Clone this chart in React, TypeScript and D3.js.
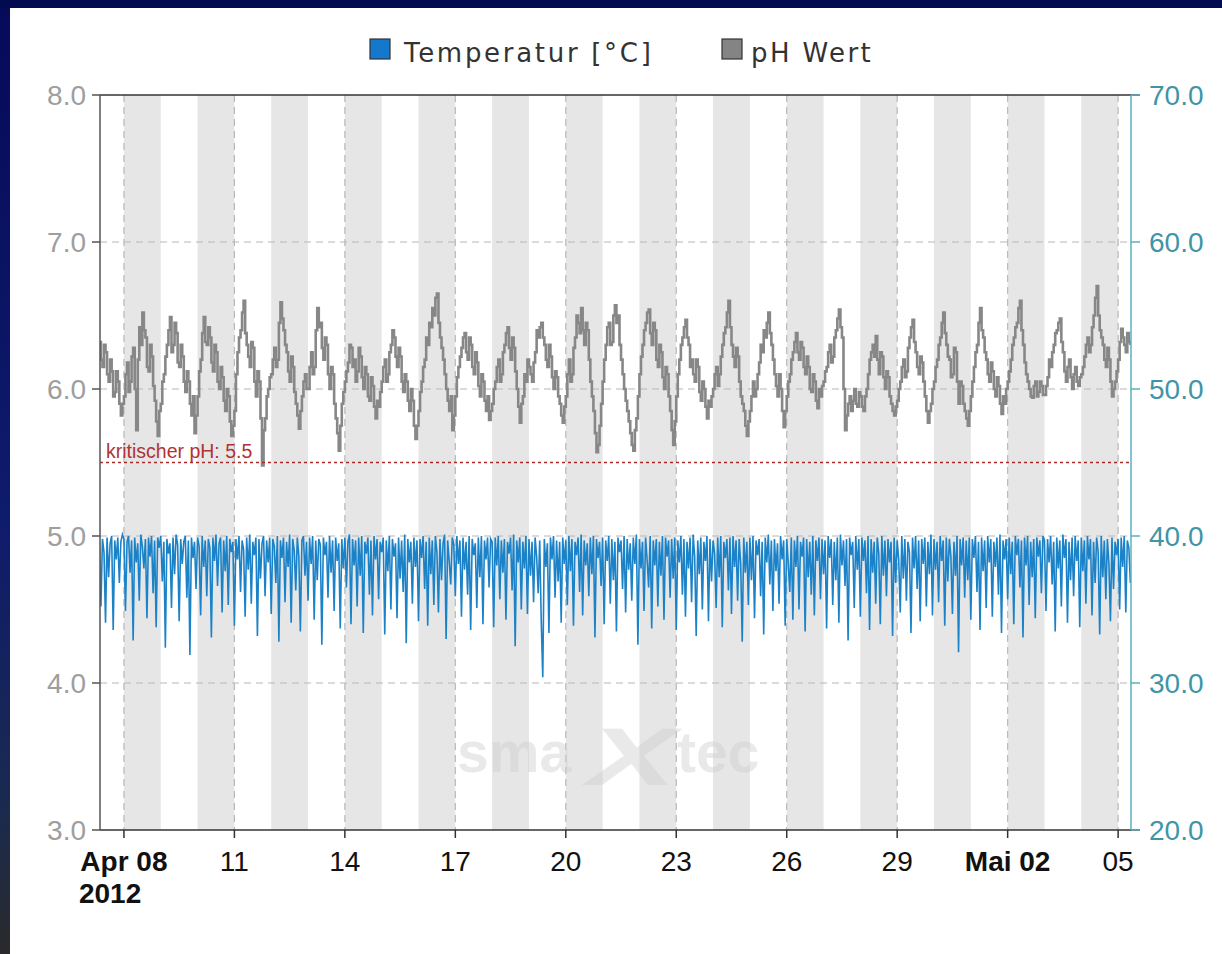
import React, { useEffect } from "react";
import * as d3 from "d3";

const WIDTH = 1222;
const HEIGHT = 954;
const PLOT = { left: 100, right: 1131, top: 95, bottom: 830 };

// both series start Apr 7 2012 08:00, one sample per hour
const SERIES_START = new Date(2012, 3, 7, 8, 0);
const STEP_HOURS = 1;

// pH (left axis), Apr 7 08:00 .. Apr 13
const phWeek1 = [
  6.32, 6.2, 6.15, 6.3, 6.25, 6.1, 6.05, 6.2, 6.12, 5.95, 5.98, 6.12, 6.05, 5.9, 5.82, 5.9,
  5.95, 6.1, 6.18, 5.98, 6.05, 6.22, 6.28, 6.0, 5.72, 6.2, 6.42, 6.3, 6.52, 6.4, 6.35, 6.15, 6.12, 6.3, 6.22, 6.02, 5.92, 5.78, 5.68, 5.85,
  5.9, 6.05, 6.1, 6.22, 6.3, 6.4, 6.49, 6.25, 6.3, 6.45, 6.38, 6.18, 6.15, 6.3, 6.22, 6.05, 5.98, 6.12, 6.05, 5.9, 5.82, 5.95, 5.7, 5.82,
  5.95, 6.12, 6.2, 6.38, 6.49, 6.32, 6.3, 6.42, 6.35, 6.18, 6.12, 6.3, 6.25, 6.05, 6.0, 6.15, 6.08, 5.92, 5.85, 6.0, 5.95, 5.78, 5.68, 5.75,
  5.85, 6.1, 6.25, 6.35, 6.4, 6.52, 6.6, 6.38, 6.3, 6.22, 6.15, 6.32, 6.28, 6.05, 5.95, 6.12, 6.05, 5.8, 5.48, 5.72, 5.8, 5.95, 6.0, 6.08,
  6.1, 6.2, 6.28, 6.15, 6.2, 6.45, 6.59, 6.48, 6.4, 6.3, 6.25, 6.12, 6.05, 6.22, 6.15, 5.98, 5.9, 5.82, 5.73, 5.85, 5.95, 6.05, 6.1, 6.0,
  6.0, 6.15, 6.25, 6.1, 6.15, 6.4, 6.55, 6.42, 6.45, 6.28, 6.2, 6.35, 6.3, 6.1, 6.0, 6.15, 6.1, 5.9, 5.8, 5.7, 5.58, 5.75, 5.9, 5.98,
];
// Apr 14 .. Apr 20
const phWeek2 = [
  6.05, 6.12, 6.18, 6.3, 6.28, 6.15, 6.2, 6.05, 6.12, 6.28, 6.22, 6.08, 6.0, 6.15, 6.1, 5.95, 5.92, 6.08, 6.02, 5.88, 5.8, 5.92, 5.88, 5.98,
  6.05, 6.15, 6.2, 6.05, 6.1, 6.25, 6.3, 6.4, 6.35, 6.22, 6.15, 6.28, 6.22, 6.05, 5.98, 6.1, 6.05, 5.92, 5.85, 6.0, 5.92, 5.75, 5.66, 5.75,
  5.85, 5.98, 6.05, 6.15, 6.2, 6.35, 6.3, 6.45, 6.42, 6.55, 6.5, 6.62, 6.65, 6.45, 6.35, 6.28, 6.2, 6.1, 6.0, 5.92, 5.85, 5.95, 5.72, 5.82,
  5.95, 6.08, 6.15, 6.22, 6.28, 6.35, 6.38, 6.25, 6.2, 6.35, 6.3, 6.15, 6.1, 6.25, 6.18, 6.02, 5.95, 6.1, 6.05, 5.92, 5.85, 5.95, 5.79, 5.85,
  5.9, 6.0, 6.05, 6.15, 6.2, 6.05, 6.1, 6.25, 6.3, 6.38, 6.42, 6.28, 6.2, 6.35, 6.28, 6.12, 6.0, 5.88, 5.77, 5.9, 5.95, 6.1, 6.05, 6.2,
  6.15, 6.1, 6.05, 6.18, 6.25, 6.4, 6.35, 6.42, 6.45, 6.35, 6.3, 6.2, 6.15, 6.3, 6.22, 6.08, 6.0, 6.12, 6.08, 5.95, 5.9, 5.82, 5.77, 5.88,
  5.95, 6.1, 6.2, 6.05, 6.1, 6.28, 6.35, 6.5, 6.45, 6.38, 6.55, 6.4, 6.3, 6.45, 6.4, 6.2, 6.05, 5.95, 5.85, 5.7, 5.57, 5.62, 5.75, 5.9,
];
// Apr 21 .. Apr 27
const phWeek3 = [
  6.05, 6.2, 6.3, 6.42, 6.45, 6.3, 6.32, 6.5, 6.57, 6.45, 6.5, 6.3, 6.2, 6.1, 6.0, 5.92, 5.85, 5.78, 5.7, 5.62, 5.58, 5.72, 5.8, 5.95,
  6.1, 6.22, 6.3, 6.4, 6.45, 6.52, 6.54, 6.38, 6.3, 6.45, 6.4, 6.2, 6.15, 6.3, 6.25, 6.08, 6.0, 6.15, 6.1, 5.95, 5.85, 5.72, 5.62, 5.78,
  5.95, 6.1, 6.2, 6.3, 6.35, 6.42, 6.47, 6.35, 6.3, 6.15, 6.2, 6.1, 6.05, 6.2, 6.15, 5.98, 5.92, 6.05, 6.0, 5.88, 5.8, 5.92, 5.88, 5.95,
  6.0, 6.1, 6.15, 6.02, 6.1, 6.22, 6.3, 6.38, 6.42, 6.52, 6.6, 6.42, 6.3, 6.22, 6.15, 6.28, 6.22, 6.05, 5.95, 5.9, 5.85, 5.75, 5.68, 5.78,
  5.85, 5.95, 6.05, 5.95, 6.0, 6.1, 6.18, 6.3, 6.25, 6.4, 6.35, 6.45, 6.52, 6.38, 6.3, 6.2, 6.1, 6.02, 5.95, 6.1, 6.0, 5.85, 5.74, 5.85,
  5.95, 6.05, 6.1, 6.2, 6.25, 6.32, 6.38, 6.25, 6.2, 6.32, 6.28, 6.15, 6.1, 6.22, 6.15, 6.0, 5.98, 6.1, 6.05, 5.92, 5.87, 6.0, 5.95, 6.02,
  6.05, 6.12, 6.15, 6.25, 6.3, 6.18, 6.22, 6.35, 6.4, 6.48, 6.54, 6.42, 6.35, 6.0, 5.72, 5.82, 5.9, 5.95, 5.85, 5.92, 6.0, 5.9, 5.88, 5.98,
];
// Apr 28 .. May 5 08:00
const phWeek4 = [
  5.95, 5.88, 5.85, 5.95, 6.0, 6.1, 6.2, 6.25, 6.3, 6.22, 6.36, 6.2, 6.1, 6.25, 6.22, 6.08, 6.0, 6.12, 6.08, 5.95, 5.9, 5.85, 5.82, 5.88,
  5.92, 6.0, 6.05, 6.15, 6.2, 6.08, 6.12, 6.28, 6.35, 6.42, 6.47, 6.32, 6.25, 6.15, 6.1, 6.22, 6.18, 6.05, 5.95, 5.85, 5.77, 5.85, 5.9, 6.0,
  6.05, 6.15, 6.2, 6.3, 6.35, 6.45, 6.52, 6.38, 6.3, 6.22, 6.2, 6.08, 6.1, 6.28, 6.25, 6.05, 5.9, 6.05, 6.02, 5.9, 5.85, 5.8, 5.75, 5.85,
  5.95, 6.05, 6.15, 6.25, 6.3, 6.45, 6.55, 6.4, 6.35, 6.25, 6.2, 6.1, 6.05, 6.18, 6.12, 6.0, 5.95, 6.08, 6.02, 5.9, 5.83, 5.95, 5.9, 6.0,
  6.05, 6.12, 6.2, 6.3, 6.35, 6.42, 6.45, 6.55, 6.6, 6.4, 6.3, 6.18, 6.1, 6.05, 6.0, 5.95, 5.94, 6.02, 6.05, 5.95, 5.98, 6.05, 6.02, 5.96,
  5.96, 6.02, 6.08, 6.2, 6.15, 6.25, 6.3, 6.38, 6.4, 6.45, 6.48, 6.32, 6.25, 6.12, 6.05, 6.15, 6.2, 6.08, 6.0, 6.1, 6.15, 6.05, 6.02, 6.08,
  6.1, 6.15, 6.22, 6.3, 6.35, 6.25, 6.3, 6.42, 6.5, 6.62, 6.7, 6.5, 6.4, 6.35, 6.3, 6.2, 6.15, 6.28, 6.2, 6.05, 5.95, 6.0, 6.05, 6.12,
  6.2, 6.32, 6.41, 6.35, 6.3, 6.25, 6.38, 6.32, 6.3,
];

// temperature °C (right axis), Apr 7 08:00 .. Apr 13
const tempWeek1 = [
  39.6, 35.2, 39.8, 38.9, 34.1, 39.9, 37.2, 39.5, 40.0, 33.6, 39.7, 38.4, 39.9, 36.8, 39.6, 40.1,
  39.8, 34.9, 39.6, 40.0, 37.5, 39.7, 32.9, 39.9, 38.2, 39.5, 35.6, 40.1, 39.3, 37.8, 39.8, 34.4, 39.9, 38.6, 40.0, 36.1, 39.7, 33.8, 39.9, 39.2,
  40.0, 36.9, 39.6, 32.4, 39.8, 38.8, 39.5, 35.1, 39.9, 37.4, 40.1, 39.4, 34.2, 39.8, 38.1, 39.6, 40.0, 35.8, 39.7, 31.9, 39.9, 38.5, 39.6, 36.4,
  39.9, 39.3, 34.6, 40.0, 37.9, 39.7, 35.9, 39.8, 39.2, 33.1, 39.9, 38.3, 40.1, 36.6, 39.5, 39.9, 34.8, 39.7, 37.6, 40.0, 35.3, 39.8, 38.9, 39.6,
  33.9, 39.8, 38.4, 40.0, 36.2, 39.7, 39.1, 34.5, 39.9, 37.7, 40.1, 35.4, 39.6, 38.7, 39.9, 33.2, 39.8, 37.1, 39.5, 40.0, 35.9, 39.7, 38.2, 39.9,
  34.7, 39.8, 39.3, 36.8, 40.0, 32.8, 39.7, 38.5, 39.9, 35.5, 39.6, 37.9, 40.1, 34.1, 39.8, 39.0, 36.3, 39.9, 38.6, 33.5, 39.7, 40.0, 37.3, 39.6,
  35.6, 39.9, 38.1, 40.0, 34.3, 39.7, 37.0, 39.8, 39.4, 32.6, 39.9, 38.7, 39.6, 35.8, 40.0, 37.5, 39.7, 34.9, 39.9, 38.3, 39.5, 33.7, 39.8, 37.8,
];
// Apr 14 .. Apr 20
const tempWeek2 = [
  39.9, 36.5, 39.6, 40.1, 34.0, 39.8, 38.0, 39.7, 35.2, 39.9, 37.3, 40.0, 33.4, 39.6, 38.8, 39.9, 36.0, 39.7, 34.6, 40.0, 38.4, 39.8, 35.7, 39.6,
  38.9, 39.9, 33.3, 39.7, 37.6, 40.0, 35.0, 39.8, 38.6, 39.5, 34.4, 39.9, 37.1, 39.7, 36.2, 40.1, 32.7, 39.8, 38.2, 39.6, 35.4, 39.9, 37.9, 39.7,
  34.2, 39.8, 38.5, 40.0, 36.4, 39.6, 33.9, 39.9, 37.4, 39.7, 35.3, 40.0, 38.9, 34.8, 39.8, 37.0, 39.5, 40.1, 33.0, 39.7, 38.3, 36.7, 39.9, 39.4,
  35.9, 40.0, 38.1, 39.7, 34.5, 39.9, 37.7, 39.6, 36.0, 40.0, 33.6, 39.8, 38.7, 39.5, 35.1, 39.9, 37.2, 40.0, 34.0, 39.7, 38.4, 39.9, 36.5, 39.8,
  39.6, 33.8, 39.9, 38.0, 40.0, 35.7, 39.7, 37.5, 39.8, 34.3, 39.6, 38.8, 39.9, 36.3, 40.1, 32.5, 39.7, 38.2, 39.9, 35.0, 39.6, 37.8, 40.0, 34.7,
  39.8, 37.3, 39.6, 35.5, 39.9, 38.6, 36.1, 39.7, 34.2, 30.4, 39.8, 37.9, 39.5, 33.4, 39.9, 38.4, 40.0, 35.8, 39.7, 36.9, 39.6, 34.1, 39.9, 38.1,
  39.7, 35.3, 40.0, 37.6, 39.8, 33.9, 39.6, 38.7, 39.9, 36.2, 40.1, 34.6, 39.7, 38.0, 39.5, 35.9, 39.9, 37.4, 40.0, 33.1, 39.8, 38.5, 39.6, 36.6,
];
// Apr 21 .. Apr 27
const tempWeek3 = [
  39.9, 34.0, 39.7, 38.3, 40.0, 35.4, 39.8, 37.0, 39.6, 33.5, 39.9, 38.9, 39.7, 36.4, 40.0, 34.8, 39.8, 37.7, 39.5, 35.6, 39.9, 38.1, 40.1, 32.6,
  39.8, 37.8, 39.6, 34.9, 39.9, 38.4, 36.5, 40.0, 33.7, 39.7, 38.0, 39.8, 35.2, 39.6, 37.3, 40.0, 34.3, 39.9, 38.6, 39.7, 35.8, 39.8, 37.1, 39.9,
  33.6, 39.7, 38.2, 40.0, 36.0, 39.8, 34.5, 39.6, 37.8, 39.9, 35.5, 40.1, 38.6, 33.2, 39.7, 37.4, 39.9, 35.0, 39.6, 38.3, 40.0, 34.2, 39.8, 36.9,
  39.7, 38.8, 35.1, 39.9, 37.2, 40.0, 33.8, 39.6, 38.5, 39.8, 36.3, 39.9, 34.7, 40.0, 37.9, 39.7, 35.6, 39.8, 38.1, 32.8, 39.9, 37.5, 39.6, 35.3,
  39.9, 37.0, 40.0, 34.4, 39.7, 38.7, 39.8, 35.9, 39.6, 33.3, 39.9, 38.2, 40.1, 36.7, 39.7, 34.9, 39.8, 37.6, 39.5, 35.4, 40.0, 38.4, 39.7, 33.9,
  39.8, 38.1, 36.2, 39.9, 34.3, 39.7, 37.9, 40.0, 35.0, 39.6, 38.6, 39.9, 33.5, 39.8, 37.2, 39.6, 36.0, 40.0, 34.6, 39.7, 38.3, 39.9, 35.7, 39.8,
  37.4, 39.7, 33.7, 40.0, 38.5, 39.8, 35.3, 39.6, 37.0, 39.9, 34.1, 40.1, 38.0, 39.7, 36.6, 39.8, 32.9, 39.9, 38.7, 39.6, 35.1, 40.0, 37.7, 39.8,
];
// Apr 28 .. May 5 08:00
const tempWeek4 = [
  34.5, 39.9, 38.3, 39.7, 36.1, 40.0, 33.6, 39.8, 37.5, 39.6, 35.4, 39.9, 38.8, 34.0, 40.0, 37.3, 39.7, 35.9, 39.8, 38.2, 39.6, 33.2, 39.9, 36.8,
  39.7, 38.4, 34.8, 40.0, 37.1, 39.8, 35.6, 39.6, 38.9, 33.4, 39.9, 37.8, 40.0, 36.4, 39.7, 34.2, 39.8, 38.1, 39.9, 35.2, 39.6, 37.4, 40.1, 34.6,
  39.8, 37.7, 39.6, 35.5, 40.0, 38.3, 39.7, 33.9, 39.9, 36.9, 39.8, 38.6, 34.7, 39.6, 37.3, 40.0, 32.1, 39.8, 38.0, 39.9, 35.8, 39.7, 37.0, 39.9,
  34.3, 39.8, 38.5, 40.0, 36.2, 39.6, 33.6, 39.9, 37.6, 39.7, 35.1, 40.0, 38.2, 39.8, 34.5, 39.6, 37.9, 39.9, 36.0, 40.1, 33.4, 39.7, 38.4, 39.8,
  35.7, 39.9, 37.4, 39.6, 34.0, 40.0, 38.7, 39.8, 36.5, 39.7, 33.1, 39.9, 38.0, 40.0, 35.3, 39.6, 37.2, 39.8, 34.4, 39.9, 38.6, 39.7, 36.1, 40.0,
  39.7, 34.9, 39.8, 38.2, 40.0, 36.7, 39.6, 33.5, 39.9, 37.8, 39.7, 35.2, 40.1, 38.5, 39.8, 34.1, 39.6, 37.0, 39.9, 35.9, 40.0, 38.3, 39.7, 33.8,
  39.9, 37.6, 39.7, 35.4, 40.0, 38.4, 39.8, 34.6, 39.6, 36.8, 39.9, 38.9, 33.3, 40.0, 37.2, 39.7, 35.7, 39.8, 38.1, 34.2, 39.9, 36.4, 39.6, 38.7,
  39.8, 35.0, 39.9, 37.9, 40.0, 34.8, 39.7, 39.2, 36.8,
];

const xTickDays = [
  [3, 8], [3, 11], [3, 14], [3, 17], [3, 20], [3, 23], [3, 26], [3, 29], [4, 2], [4, 5],
];
const xTickLabels = ["Apr 08", "11", "14", "17", "20", "23", "26", "29", "Mai 02", "05"];
const xTickBold = [true, false, false, false, false, false, false, false, true, false];
const yearLabel = "2012";
const phTicks = [3, 4, 5, 6, 7, 8];
const tempTicks = [20, 30, 40, 50, 60, 70];
const CRITICAL_PH = 5.5;
const criticalLabel = "kritischer pH: 5.5";
const legendLabels = ["Temperatur [°C]", "pH Wert"];

const TEMP_COLOR = "#1b82c8";
const PH_COLOR = "#878787";
const RIGHT_AXIS_COLOR = "#3f95a6";
const FONT = "'Liberation Sans', Arial, sans-serif";

function toSeries(values: number[], start: Date, stepHours: number) {
  return values.map((v, i) => ({ t: d3.timeHour.offset(start, i * stepHours), v }));
}

export default function App() {
  useEffect(() => {
    document.body.style.margin = "0";
  }, []);

  const x = d3
    .scaleTime()
    .domain([new Date(2012, 3, 7, 8, 24), new Date(2012, 4, 5, 8, 24)])
    .range([PLOT.left, PLOT.right]);
  const yPh = d3.scaleLinear().domain([3, 8]).range([PLOT.bottom, PLOT.top]);
  const yTemp = d3.scaleLinear().domain([20, 70]).range([PLOT.bottom, PLOT.top]);

  const phData = toSeries([...phWeek1, ...phWeek2, ...phWeek3, ...phWeek4], SERIES_START, STEP_HOURS);
  const tempData = toSeries([...tempWeek1, ...tempWeek2, ...tempWeek3, ...tempWeek4], SERIES_START, STEP_HOURS);

  const phLine = d3
    .line<{ t: Date; v: number }>()
    .x(d => x(d.t))
    .y(d => yPh(d.v))
    .curve(d3.curveStepAfter);
  const tempLine = d3.line<{ t: Date; v: number }>().x(d => x(d.t)).y(d => yTemp(d.v));

  const tickDates = xTickDays.map(([m, d]) => new Date(2012, m, d));
  const bandDays = d3.timeDay.range(new Date(2012, 3, 8), new Date(2012, 4, 5), 2);
  const dayWidth = x(new Date(2012, 3, 9)) - x(new Date(2012, 3, 8));

  return (
    <div style={{ position: "absolute", left: 0, top: 0 }}>
      <svg width={WIDTH} height={HEIGHT} style={{ display: "block" }}>
        <defs>
          <linearGradient id="frame" x1="0" y1="0" x2="0" y2="1">
            <stop offset="0%" stopColor="#060a58" />
            <stop offset="55%" stopColor="#0e1c6c" />
            <stop offset="85%" stopColor="#1b2a4e" />
            <stop offset="100%" stopColor="#2a2a2c" />
          </linearGradient>
          <clipPath id="plotClip">
            <rect x={PLOT.left} y={PLOT.top} width={PLOT.right - PLOT.left} height={PLOT.bottom - PLOT.top} />
          </clipPath>
        </defs>
        <rect x={0} y={0} width={WIDTH} height={HEIGHT} fill="url(#frame)" />
        <rect x={0} y={0} width={WIDTH} height={8} fill="#020a50" />
        <rect x={10} y={8} width={WIDTH - 10} height={HEIGHT - 8} fill="#ffffff" />

        {/* legend */}
        <g fontFamily="'DejaVu Sans', Verdana, sans-serif" fontSize={26} fill="#333">
          <rect x={370} y={39} width={20} height={20} fill="#1479cc" stroke="#333" strokeWidth={1.2} />
          <text x={404} y={62} letterSpacing={2.7}>{legendLabels[0]}</text>
          <rect x={722} y={39} width={20} height={20} fill="#848484" stroke="#333" strokeWidth={1.2} />
          <text x={751} y={62} letterSpacing={2.4}>{legendLabels[1]}</text>
        </g>

        {/* alternating day bands */}
        <g fill="#e6e6e6">
          {bandDays.map((d, i) => (
            <rect key={i} x={x(d)} y={PLOT.top} width={dayWidth} height={PLOT.bottom - PLOT.top} />
          ))}
        </g>

        {/* grid */}
        <g stroke="#b8b8b8" strokeWidth={1.2} strokeDasharray="7,5">
          {phTicks.slice(1, -1).map(t => (
            <line key={t} x1={PLOT.left} x2={PLOT.right} y1={yPh(t)} y2={yPh(t)} />
          ))}
          {tickDates.map((d, i) => (
            <line key={i} x1={x(d)} x2={x(d)} y1={PLOT.top} y2={PLOT.bottom} />
          ))}
        </g>

        {/* watermark */}
        <g fill="#cfcfcf" opacity={0.45} fontFamily={FONT} fontWeight="bold">
          <text x={457} y={772} fontSize={57}>sma</text>
          <text x={588} y={785} fontSize={82} textLength={88} lengthAdjust="spacingAndGlyphs" fontStyle="italic">X</text>
          <text x={677} y={772} fontSize={57}>tec</text>
        </g>

        <g clipPath="url(#plotClip)" fill="none">
          <path d={phLine(phData) ?? ""} stroke={PH_COLOR} strokeWidth={2.6} />
          <path d={tempLine(tempData) ?? ""} stroke={TEMP_COLOR} strokeWidth={1.6} />
        </g>

        {/* critical pH */}
        <line
          x1={PLOT.left}
          x2={PLOT.right}
          y1={yPh(CRITICAL_PH)}
          y2={yPh(CRITICAL_PH)}
          stroke="#a82a2a"
          strokeWidth={1.5}
          strokeDasharray="3,3"
        />
        <text x={106} y={yPh(CRITICAL_PH) - 5} fontFamily={FONT} fontSize={19.5} fill="#b03434">
          {criticalLabel}
        </text>

        {/* axes frame */}
        <line x1={PLOT.left} x2={PLOT.right + 9} y1={PLOT.top} y2={PLOT.top} stroke="#333" strokeWidth={1.5} />
        <line x1={PLOT.left} x2={PLOT.right + 9} y1={PLOT.bottom} y2={PLOT.bottom} stroke="#333" strokeWidth={1.5} />
        <line x1={PLOT.left} x2={PLOT.left} y1={PLOT.top} y2={PLOT.bottom} stroke="#555" strokeWidth={1.5} />
        <line x1={PLOT.right} x2={PLOT.right} y1={PLOT.top} y2={PLOT.bottom} stroke="#5ab0c0" strokeWidth={1.5} />

        {/* left axis */}
        <g fontFamily={FONT} fontSize={28} fill="#9e9e9e" textAnchor="end">
          {phTicks.map(t => (
            <g key={t}>
              <line x1={PLOT.left - 8} x2={PLOT.left} y1={yPh(t)} y2={yPh(t)} stroke="#555" strokeWidth={1.5} />
              <text x={PLOT.left - 14} y={yPh(t)} dy="0.36em">{t.toFixed(1)}</text>
            </g>
          ))}
        </g>

        {/* right axis */}
        <g fontFamily={FONT} fontSize={28} fill={RIGHT_AXIS_COLOR}>
          {tempTicks.map(t => (
            <g key={t}>
              <line x1={PLOT.right} x2={PLOT.right + 9} y1={yTemp(t)} y2={yTemp(t)} stroke="#5ab0c0" strokeWidth={1.5} />
              <text x={PLOT.right + 18} y={yTemp(t)} dy="0.36em">{t.toFixed(1)}</text>
            </g>
          ))}
        </g>

        {/* bottom axis */}
        <g fontFamily={FONT} fontSize={28} fill="#111">
          {tickDates.map((d, i) => (
            <g key={i}>
              <line x1={x(d)} x2={x(d)} y1={PLOT.bottom} y2={PLOT.bottom + 8} stroke="#333" strokeWidth={1.5} />
              <text x={x(d)} y={871} textAnchor="middle" fontWeight={xTickBold[i] ? "bold" : "normal"}>
                {xTickLabels[i]}
              </text>
            </g>
          ))}
          <text x={x(tickDates[0]) - 45} y={903} fontWeight="bold">{yearLabel}</text>
        </g>
      </svg>
    </div>
  );
}
